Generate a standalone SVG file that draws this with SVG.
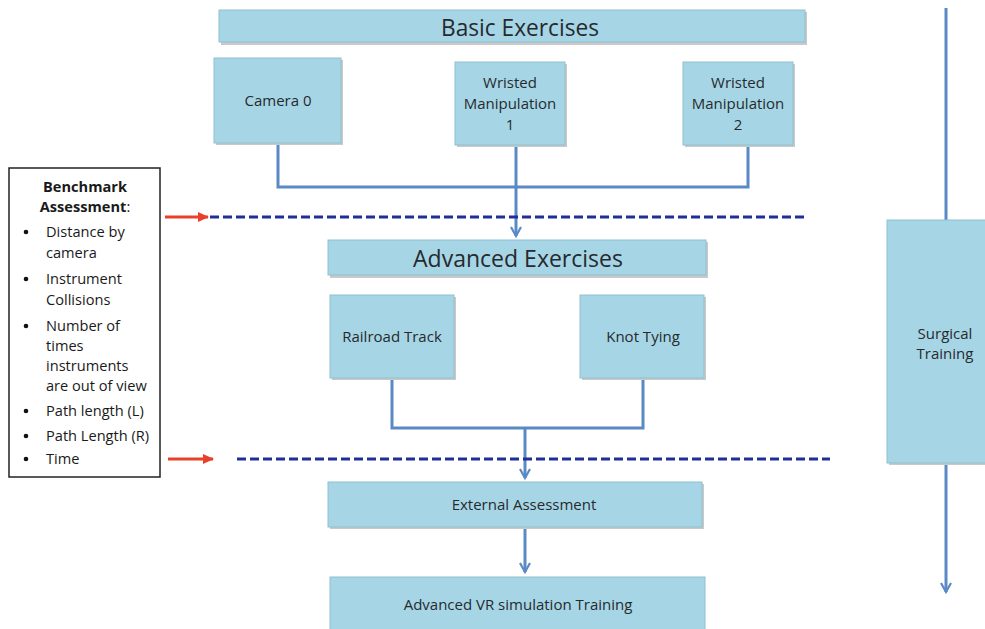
<svg xmlns="http://www.w3.org/2000/svg" width="985" height="629" viewBox="0 0 985 629">
<defs>
<style>
.box{fill:#a6d6e5;stroke:#8fc0d0;stroke-width:1}
.shadow{fill:#c9c9c9}
.t{font-family:"Open Sans","Noto Sans","Liberation Sans",sans-serif;fill:#262a2e;text-anchor:middle;font-size:15px}
.big{font-size:23px}
.lt{font-family:"Open Sans","Noto Sans","Liberation Sans",sans-serif;fill:#1a1a1a;font-size:14.6px}
.conn{fill:none;stroke:#5a8ac6;stroke-width:3}
.dash{fill:none;stroke:#1f2f99;stroke-width:3;stroke-dasharray:9,4}
.red{fill:none;stroke:#e8402a;stroke-width:3}
</style>
<marker id="ah" viewBox="0 0 12 12" refX="10" refY="6" markerWidth="4" markerHeight="4" orient="auto" markerUnits="strokeWidth">
<path d="M1,1 L10,6 L1,11" fill="none" stroke="#5a8ac6" stroke-width="2.2"/>
</marker>
<marker id="rah" viewBox="0 0 12 12" refX="10" refY="6" markerWidth="4" markerHeight="4" orient="auto" markerUnits="strokeWidth">
<path d="M0,1 L11,6 L0,11 z" fill="#e8402a"/>
</marker>
</defs>
<rect width="985" height="629" fill="#fff"/>

<g id="connectors">
<path class="conn" d="M278,143 V187 H748 V145"/>
<path class="conn" d="M516,145 V236" marker-end="url(#ah)"/>
<path class="conn" d="M392,378 V428 H643 V378"/>
<path class="conn" d="M525,428 V478" marker-end="url(#ah)"/>
<path class="conn" d="M525,527 V572" marker-end="url(#ah)"/>
<path class="conn" d="M946,8 V220"/>
<path class="conn" d="M946,463 V592" marker-end="url(#ah)"/>
<path class="dash" d="M210,217 H805"/>
<path class="dash" d="M237,459 H830"/>
<path class="red" d="M165,217 H208" marker-end="url(#rah)"/>
<path class="red" d="M168,459 H213" marker-end="url(#rah)"/>
</g>

<g id="basic">
<rect class="shadow" x="221" y="12" width="586" height="33"/>
<rect class="box" x="219" y="10" width="586" height="32"/>
<text class="t big" x="520" y="36" textLength="158" lengthAdjust="spacingAndGlyphs">Basic Exercises</text>
</g>
<g id="camera0">
<rect class="shadow" x="216" y="60" width="127" height="85"/>
<rect class="box" x="214" y="58" width="127" height="85"/>
<text class="t" x="278" y="106">Camera 0</text>
</g>
<g id="wristed1">
<rect class="shadow" x="457" y="64" width="110" height="83"/>
<rect class="box" x="455" y="62" width="110" height="83"/>
<text class="t" x="510" y="88">Wristed</text>
<text class="t" x="510" y="109">Manipulation</text>
<text class="t" x="510" y="130">1</text>
</g>
<g id="wristed2">
<rect class="shadow" x="685" y="64" width="110" height="83"/>
<rect class="box" x="683" y="62" width="110" height="83"/>
<text class="t" x="738" y="88">Wristed</text>
<text class="t" x="738" y="109">Manipulation</text>
<text class="t" x="738" y="130">2</text>
</g>
<g id="advanced">
<rect class="shadow" x="330" y="242" width="378" height="36"/>
<rect class="box" x="328" y="240" width="378" height="35"/>
<text class="t big" x="518" y="267" textLength="210" lengthAdjust="spacingAndGlyphs">Advanced Exercises</text>
</g>
<g id="railroad">
<rect class="shadow" x="332" y="297" width="124" height="83"/>
<rect class="box" x="330" y="295" width="124" height="83"/>
<text class="t" x="392" y="342">Railroad Track</text>
</g>
<g id="knot">
<rect class="shadow" x="582" y="297" width="124" height="83"/>
<rect class="box" x="580" y="295" width="124" height="83"/>
<text class="t" x="643" y="342">Knot Tying</text>
</g>
<g id="external">
<rect class="shadow" x="330" y="484" width="374" height="45"/>
<rect class="box" x="328" y="482" width="374" height="45"/>
<text class="t" x="524" y="510">External Assessment</text>
</g>
<g id="vr">
<rect class="box" x="330" y="577" width="375" height="60"/>
<text class="t" x="518" y="610">Advanced VR simulation Training</text>
</g>
<g id="surgical">
<rect class="shadow" x="889" y="222" width="100" height="243"/>
<rect class="box" x="887" y="220" width="100" height="243"/>
<text class="t" x="945" y="339">Surgical</text>
<text class="t" x="945" y="359">Training</text>
</g>
<g id="benchmark">
<rect x="9" y="168" width="151" height="309" fill="#fff" stroke="#222" stroke-width="1.5"/>
<text class="lt" x="85" y="192" text-anchor="middle" font-weight="bold">Benchmark</text>
<text class="lt" x="85" y="212" text-anchor="middle"><tspan font-weight="bold">Assessment</tspan>:</text>
<circle cx="26" cy="232" r="2.3" fill="#111"/>
<text class="lt" x="46" y="237">Distance by</text>
<text class="lt" x="46" y="258">camera</text>
<circle cx="26" cy="279" r="2.3" fill="#111"/>
<text class="lt" x="46" y="284">Instrument</text>
<text class="lt" x="46" y="305">Collisions</text>
<circle cx="26" cy="326" r="2.3" fill="#111"/>
<text class="lt" x="46" y="331">Number of</text>
<text class="lt" x="46" y="351">times</text>
<text class="lt" x="46" y="371">instruments</text>
<text class="lt" x="46" y="391">are out of view</text>
<circle cx="26" cy="411" r="2.3" fill="#111"/>
<text class="lt" x="46" y="416">Path length (L)</text>
<circle cx="26" cy="436" r="2.3" fill="#111"/>
<text class="lt" x="46" y="441">Path Length (R)</text>
<circle cx="26" cy="459" r="2.3" fill="#111"/>
<text class="lt" x="46" y="464">Time</text>
</g>
</svg>
